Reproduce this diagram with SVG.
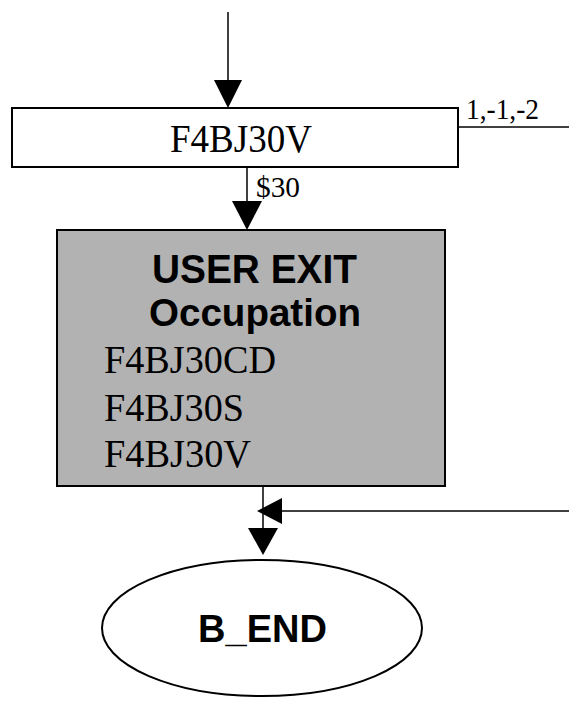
<svg xmlns="http://www.w3.org/2000/svg" width="569" height="702" viewBox="0 0 569 702">
<style>
.box{fill:#ffffff;stroke:#000;stroke-width:2}
.gray{fill:#b2b2b2;stroke:#000;stroke-width:2}
.ln{fill:none;stroke:#000;stroke-width:1.5}
.ah{fill:#000;stroke:none}
.serif{font-family:"Liberation Serif","Times New Roman",serif;fill:#000}
.sans{font-family:"Liberation Sans",Arial,sans-serif;font-weight:bold;fill:#000}
</style>
<rect width="569" height="702" fill="#ffffff"/>
<g id="connectors">
  <line class="ln" x1="228" y1="12" x2="228" y2="90"/>
  <polygon class="ah" points="214,80 242,80 228,108"/>
  <line class="ln" x1="458" y1="127" x2="569" y2="127"/>
  <text class="serif" x="466" y="119" font-size="29" textLength="73" lengthAdjust="spacingAndGlyphs">1,-1,-2</text>
  <line class="ln" x1="247" y1="167" x2="247" y2="210"/>
  <polygon class="ah" points="232,201 262,201 247,230"/>
  <text class="serif" x="256" y="197" font-size="29" textLength="44" lengthAdjust="spacingAndGlyphs">$30</text>
  <line class="ln" x1="263" y1="486" x2="263" y2="535"/>
  <polygon class="ah" points="248,528 278,528 263,555"/>
  <line class="ln" x1="278" y1="511" x2="569" y2="511"/>
  <polygon class="ah" points="257,511 282,498 282,524"/>
</g>
<g id="node-F4BJ30V">
  <rect class="box" x="12" y="108" width="446" height="59"/>
  <text class="serif" x="170" y="152" font-size="40" textLength="142" lengthAdjust="spacingAndGlyphs">F4BJ30V</text>
</g>
<g id="node-userexit">
  <rect class="gray" x="57" y="230" width="388" height="256"/>
  <text class="sans" x="152" y="283" font-size="40" textLength="205" lengthAdjust="spacingAndGlyphs">USER EXIT</text>
  <text class="sans" x="149" y="326" font-size="39" textLength="212" lengthAdjust="spacingAndGlyphs">Occupation</text>
  <text class="serif" x="104" y="373" font-size="39" textLength="172" lengthAdjust="spacingAndGlyphs">F4BJ30CD</text>
  <text class="serif" x="104" y="421" font-size="39" textLength="140" lengthAdjust="spacingAndGlyphs">F4BJ30S</text>
  <text class="serif" x="104" y="467" font-size="39" textLength="147" lengthAdjust="spacingAndGlyphs">F4BJ30V</text>
</g>
<g id="node-B_END">
  <ellipse class="box" cx="262" cy="628" rx="160" ry="68"/>
  <text class="sans" x="198" y="642" font-size="38" textLength="129" lengthAdjust="spacingAndGlyphs">B_END</text>
</g>
</svg>
